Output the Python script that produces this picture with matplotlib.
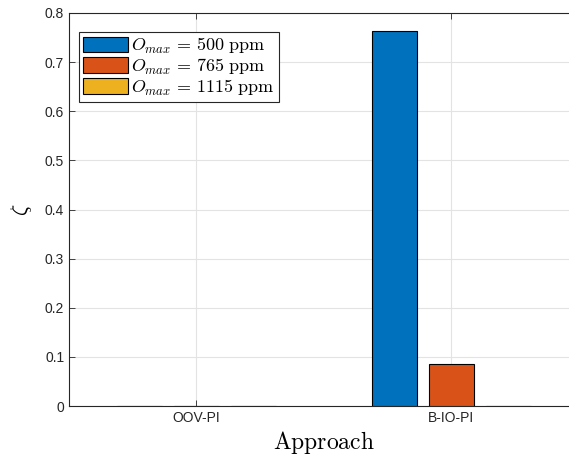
import numpy as np
import matplotlib
matplotlib.use('Agg')
import matplotlib.pyplot as plt

plt.rcParams['mathtext.fontset'] = 'cm'
plt.rcParams['font.family'] = ['Liberation Sans', 'DejaVu Sans']

approaches = ['OOV-PI', 'B-IO-PI']
series_labels = [r'$O_{max}\,=\,500\ \mathrm{ppm}$',
                 r'$O_{max}\,=\,765\ \mathrm{ppm}$',
                 r'$O_{max}\,=\,1115\ \mathrm{ppm}$']
zeta_500 = [0.0005, 0.763]
zeta_765 = [0.0005, 0.0855]
zeta_1115 = [0.0005, 0.0005]
colors = ['#0072BD', '#D95319', '#EDB120']

fig = plt.figure(figsize=(5.69, 4.59), dpi=100)
# axes run past the right edge of the figure, as in the original
ax = fig.add_axes([69/569, 53/459, 510/569, 393/459])

x = np.arange(1, len(approaches) + 1)
offs = [-0.223, 0.0, 0.223]
for vals, off, c, lab in zip([zeta_500, zeta_765, zeta_1115], offs, colors, series_labels):
    ax.bar(x + off, vals, width=0.178, color=c, edgecolor='black', linewidth=0.8,
           label=lab, zorder=3)

ax.set_xlim(0.5, 2.5)
ax.set_ylim(0, 0.8)
ax.set_xticks(x)
ax.set_xticklabels(approaches)
ax.set_yticks(np.arange(0, 0.81, 0.1))
ax.set_yticklabels(['0', '0.1', '0.2', '0.3', '0.4', '0.5', '0.6', '0.7', '0.8'])
ax.tick_params(direction='in', top=True, right=False, labelsize=10, colors='#262626',
               length=4, width=0.6)
ax.grid(True, color='#e3e3e3', linewidth=0.8, zorder=0)
ax.set_axisbelow(True)
for s in ax.spines.values():
    s.set_color('#262626')
    s.set_linewidth(0.8)
ax.spines['right'].set_visible(False)

ax.set_xlabel(r'$\mathrm{Approach}$', fontsize=17, labelpad=3)
ax.set_ylabel(r'$\zeta$', fontsize=16, labelpad=8)

leg = ax.legend(loc='upper left', bbox_to_anchor=(0.012, 0.962), fontsize=13,
                fancybox=False, framealpha=1, edgecolor='#262626',
                handlelength=2.5, handleheight=0.95, handletextpad=0.2,
                labelspacing=0.05, borderpad=0.22, borderaxespad=0.2)
leg.get_frame().set_linewidth(0.8)

fig.savefig('out.png', dpi=100)
